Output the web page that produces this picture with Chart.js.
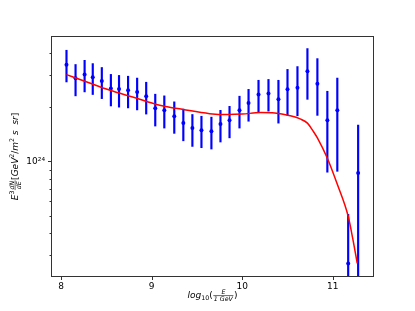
<!DOCTYPE html>
<html>
<head>
<meta charset="utf-8">
<script src="https://cdn.jsdelivr.net/npm/chart.js@4.4.1/dist/chart.umd.min.js"></script>
<style>
  html, body { margin: 0; padding: 0; background: #fff; }
</style>
</head>
<body>
<canvas id="spectrumChart" width="415" height="311"></canvas>
<script>
// measured points: log10(E / 1 GeV), E^3 dN/dE and its error bar ends
const logE = [8.06, 8.16, 8.26, 8.35, 8.45, 8.55, 8.64, 8.74, 8.84, 8.94, 9.04, 9.14, 9.25, 9.35, 9.45, 9.55,
              9.66, 9.76, 9.86, 9.97, 10.07, 10.18, 10.29, 10.40, 10.50, 10.61, 10.72, 10.83, 10.94, 11.05, 11.17, 11.28];
const flux = [3.44e24, 2.89e24, 3.04e24, 2.93e24, 2.79e24, 2.54e24, 2.52e24, 2.48e24, 2.43e24, 2.30e24, 1.97e24, 1.92e24,
              1.78e24, 1.63e24, 1.53e24, 1.49e24, 1.47e24, 1.61e24, 1.69e24, 1.92e24, 2.11e24, 2.35e24, 2.38e24, 2.21e24,
              2.51e24, 2.56e24, 3.16e24, 2.70e24, 1.69e24, 1.92e24, 2.71e23, 8.61e23];
const fluxHi = [4.14e24, 3.45e24, 3.64e24, 3.49e24, 3.32e24, 3.04e24, 3.00e24, 2.97e24, 2.90e24, 2.75e24, 2.36e24, 2.31e24,
                2.14e24, 1.95e24, 1.82e24, 1.78e24, 1.76e24, 1.92e24, 2.02e24, 2.30e24, 2.51e24, 2.82e24, 2.85e24, 2.82e24,
                3.24e24, 3.36e24, 4.23e24, 3.72e24, 2.45e24, 2.90e24, 5.08e23, 1.59e24];
const fluxLo = [2.76e24, 2.31e24, 2.43e24, 2.35e24, 2.23e24, 2.03e24, 2.00e24, 1.98e24, 1.93e24, 1.83e24, 1.57e24, 1.53e24,
                1.43e24, 1.30e24, 1.21e24, 1.19e24, 1.17e24, 1.28e24, 1.35e24, 1.53e24, 1.67e24, 1.88e24, 1.90e24, 1.63e24,
                1.80e24, 1.79e24, 2.21e24, 1.80e24, 8.7e23, 8.8e23, 1e22, 1e22];

// model curve
const modelLogE = [8.06, 8.30, 8.54, 8.80, 9.09, 9.35, 9.64, 9.84, 10.00, 10.20, 10.36, 10.53, 10.64, 10.72, 10.78,
                   10.83, 10.94, 11.05, 11.17, 11.22, 11.27];
const modelFlux = [3.03e24, 2.74e24, 2.48e24, 2.27e24, 2.05e24, 1.94e24, 1.84e24, 1.82e24, 1.83e24, 1.865e24, 1.855e24,
                   1.79e24, 1.72e24, 1.63e24, 1.48e24, 1.35e24, 1.04e24, 7.45e23, 4.95e23, 3.73e23, 2.71e23];

const xTicks = [8, 9, 10, 11];
const yMajor = [1e24];
const yMinor = [3e23, 4e23, 5e23, 6e23, 7e23, 8e23, 9e23, 2e24, 3e24, 4e24];

const X_MIN = 7.90, X_MAX = 11.444;
const Y_MIN = 2.306e23, Y_MAX = 4.905e24;

const SUP = {'0':'⁰','1':'¹','2':'²','3':'³','4':'⁴','5':'⁵','6':'⁶','7':'⁷','8':'⁸','9':'⁹','-':'⁻'};
function powLabel(v) {
    let e = String(Math.round(Math.log10(v)));
    return '10' + e.split('').map(c => SUP[c]).join('');
}

// axis titles in a mathtext-like layout
const yTitle = [
    {t: 'E', s: 9, it: true},
    {t: '3', s: 6.3, dy: -3.8},
    {num: 'dN', den: 'dE', s: 6.3},
    {t: '[', s: 9},
    {t: 'GeV', s: 9, it: true},
    {t: '2', s: 6.3, dy: -3.8},
    {t: '/', s: 9},
    {t: 'm', s: 9, it: true},
    {t: '2', s: 6.3, dy: -3.8},
    {t: ' s  sr', s: 9, it: true},
    {t: ']', s: 9}
];
const xTitle = [
    {t: 'log', s: 9, it: true},
    {t: '10', s: 6.3, dy: 2},
    {t: '(', s: 9},
    {num: 'E', den: '1 GeV', s: 6.3},
    {t: ')', s: 9}
];

function fontFor(p, it) {
    return (it ? 'italic ' : '') + p.s + 'px "DejaVu Sans"';
}

function drawMath(ctx, parts, cx, cy, rotated) {
    ctx.save();
    ctx.translate(cx, cy);
    if (rotated) ctx.rotate(-Math.PI / 2);
    ctx.fillStyle = '#000';
    ctx.strokeStyle = '#000';
    ctx.textBaseline = 'alphabetic';
    let widths = parts.map(p => {
        if (p.num) {
            ctx.font = fontFor(p, true);
            return Math.max(ctx.measureText(p.num).width, ctx.measureText(p.den).width) + 2;
        }
        ctx.font = fontFor(p, p.it);
        return ctx.measureText(p.t).width;
    });
    let total = widths.reduce((a, b) => a + b, 0);
    let x = -total / 2;
    parts.forEach((p, i) => {
        let w = widths[i];
        if (p.num) {
            let bar = -2.4;
            ctx.font = fontFor(p, true);
            ctx.textAlign = 'center';
            ctx.fillText(p.num, x + w / 2, bar - 1.2);
            ctx.fillText(p.den, x + w / 2, bar + 5.6);
            ctx.lineWidth = 0.6;
            ctx.beginPath();
            ctx.moveTo(x + 0.5, bar);
            ctx.lineTo(x + w - 0.5, bar);
            ctx.stroke();
        } else {
            ctx.font = fontFor(p, p.it);
            ctx.textAlign = 'left';
            ctx.fillText(p.t, x, p.dy || 0);
        }
        x += w;
    });
    ctx.restore();
}

const axisDecor = {
    id: 'axisDecor',
    afterDraw(chart) {
        const ctx = chart.ctx, a = chart.chartArea, xs = chart.scales.x, ys = chart.scales.y;
        ctx.save();
        ctx.strokeStyle = '#333';
        ctx.lineWidth = 1;
        let l = Math.round(a.left) - 0.5, r = Math.round(a.right) + 0.5;
        let t = Math.round(a.top) - 0.5, b = Math.round(a.bottom) + 0.5;
        ctx.strokeRect(l, t, r - l, b - t);
        ctx.beginPath();
        xTicks.forEach(v => {
            let px = Math.round(xs.getPixelForValue(v)) + 0.5;
            ctx.moveTo(px, b);
            ctx.lineTo(px, b + 3.5);
        });
        yMajor.forEach(v => {
            let py = Math.round(ys.getPixelForValue(v)) + 0.5;
            ctx.moveTo(l - 3.5, py);
            ctx.lineTo(l, py);
        });
        yMinor.forEach(v => {
            let py = Math.round(ys.getPixelForValue(v)) + 0.5;
            ctx.moveTo(l - 2, py);
            ctx.lineTo(l, py);
        });
        ctx.stroke();
        ctx.restore();
        drawMath(ctx, yTitle, 17.5, (a.top + a.bottom) / 2, true);
        drawMath(ctx, xTitle, (a.left + a.right) / 2, 298, false);
    }
};

const ctx = document.getElementById('spectrumChart').getContext('2d');
new Chart(ctx, {
    type: 'line',
    data: {
        datasets: [
            {
                type: 'line',
                label: 'model',
                data: modelLogE.map((x, i) => ({x: x, y: modelFlux[i]})),
                borderColor: '#ff0000',
                borderWidth: 1.5,
                pointRadius: 0,
                cubicInterpolationMode: 'monotone',
                fill: false,
                order: 0
            },
            {
                type: 'scatter',
                label: 'data',
                data: logE.map((x, i) => ({x: x, y: flux[i]})),
                backgroundColor: '#0000ff',
                borderColor: '#0000ff',
                pointRadius: 2,
                pointBorderWidth: 0,
                order: 1
            },
            {
                type: 'bar',
                label: 'errors',
                data: logE.map((x, i) => ({x: x, y: [fluxLo[i], fluxHi[i]]})),
                backgroundColor: '#0000ff',
                barThickness: 1.5,
                order: 2
            }
        ]
    },
    options: {
        responsive: false,
        animation: false,
        layout: { padding: { left: 0, right: 42, top: 37, bottom: 0 } },
        plugins: { legend: { display: false }, tooltip: { enabled: false } },
        scales: {
            x: {
                type: 'linear',
                min: X_MIN,
                max: X_MAX,
                offset: false,
                grid: { display: false, drawTicks: false },
                border: { display: false },
                afterBuildTicks: axis => { axis.ticks = xTicks.map(v => ({value: v})); },
                afterFit: scale => { scale.height = 35; },
                ticks: {
                    autoSkip: false,
                    maxRotation: 0,
                    padding: 5,
                    color: '#000',
                    font: { family: 'DejaVu Sans', size: 9 },
                    callback: v => String(v)
                }
            },
            y: {
                type: 'logarithmic',
                min: Y_MIN,
                max: Y_MAX,
                grid: { display: false, drawTicks: false },
                border: { display: false },
                afterBuildTicks: axis => { axis.ticks = yMajor.map(v => ({value: v})); },
                afterFit: scale => { scale.width = 52; },
                ticks: {
                    autoSkip: false,
                    padding: 7,
                    color: '#000',
                    font: { family: 'DejaVu Sans', size: 9 },
                    callback: v => powLabel(v)
                }
            }
        }
    },
    plugins: [axisDecor]
});
</script>
</body>
</html>
